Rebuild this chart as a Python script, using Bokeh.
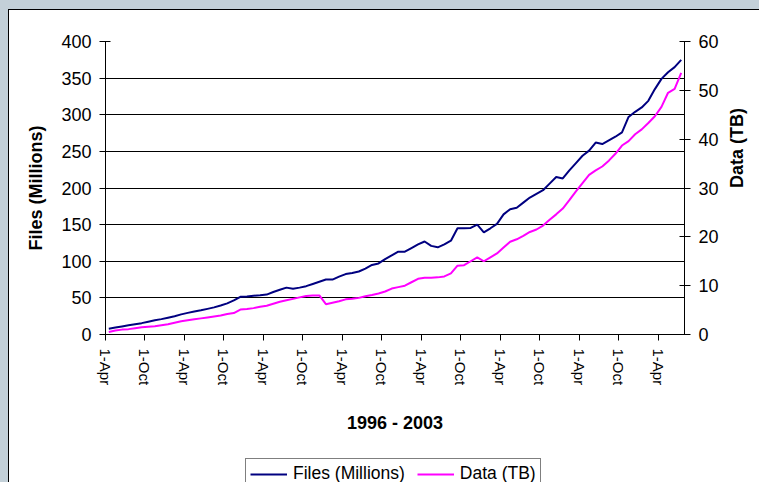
import math
import numpy as np
from bokeh.plotting import figure
from bokeh.layouts import column
from bokeh.models import Range1d, LinearAxis, FixedTicker, Legend, LegendItem
from bokeh.embed import file_html
from bokeh.resources import INLINE

# ---- data (monthly, Apr 1996 .. Jul 2003) ----
files_millions = [
    8, 9.5, 11, 12.5, 14, 15.5, 17.5, 19.5, 21, 23,
    25, 27.5, 29.5, 31.5, 33, 35, 37, 39.5, 42.5, 46.5,
    51.5, 52, 53, 53.5, 54.5, 58, 61, 64, 62.5, 64,
    66, 69, 72, 75, 75, 79, 82.5, 84, 86, 90,
    95, 97, 103, 108, 113, 113, 118, 123, 127, 121,
    119, 123, 128, 145, 145, 145.5, 150, 139.5, 145, 151,
    164, 171, 173, 180, 187, 192, 197, 206, 215, 213,
    224, 234, 244, 251, 262, 260, 265, 270, 276, 297,
    304, 310, 319, 335, 349, 358, 365, 375,
]
data_tb = [
    0.5, 0.8, 1.0, 1.1, 1.3, 1.5, 1.6, 1.7, 1.9, 2.1,
    2.4, 2.7, 2.9, 3.1, 3.3, 3.5, 3.7, 3.9, 4.2, 4.4,
    5.1, 5.2, 5.4, 5.7, 5.9, 6.3, 6.7, 7.0, 7.3, 7.6,
    7.9, 8.0, 8.0, 6.2, 6.5, 6.8, 7.2, 7.3, 7.5, 7.85,
    8.1, 8.4, 8.8, 9.4, 9.7, 10.0, 10.7, 11.4, 11.6, 11.6,
    11.7, 11.9, 12.5, 14.1, 14.2, 15.0, 15.8, 15.0, 15.8, 16.6,
    17.8, 19.0, 19.5, 20.2, 21.0, 21.5, 22.3, 23.5, 24.6, 25.8,
    27.5, 29.3, 31.0, 32.7, 33.6, 34.4, 35.6, 37.0, 38.7, 39.6,
    41.0, 42.0, 43.3, 44.7, 46.6, 49.5, 50.3, 53.6,
]
x_tick_labels = ["1-Apr", "1-Oct"] * 7 + ["1-Apr"]
left_ticks = [0, 50, 100, 150, 200, 250, 300, 350, 400]
right_ticks = [0, 10, 20, 30, 40, 50, 60]
series_names = ["Files (Millions)", "Data (TB)"]
x_title = "1996 - 2003"
y_title = "Files (Millions)"
y2_title = "Data (TB)"

FONT = "Liberation Sans"
GRAY = "#C3D0D8"
NAVY = "#000080"
MAGENTA = "#FF00FF"

n = len(files_millions)
months = np.arange(n) + 0.5
x_ticks = list(range(0, n, 6))

p = figure(width=759, height=450, output_backend="svg", toolbar_location=None,
           x_range=Range1d(0, n), y_range=Range1d(0, 400),
           min_border_left=105, min_border_right=72, min_border_top=41,
           min_border_bottom=116)
p.extra_y_ranges = {"tb": Range1d(0, 60)}

p.background_fill_color = "white"
p.border_fill_color = None
p.outline_line_color = None
p.styles = {
    "background-color": "white",
    "box-shadow": f"inset 8px 9px 0 0 {GRAY}, inset 9px 10px 0 0 #000000",
}

r1 = p.line(months, files_millions, line_color=NAVY, line_width=2)
r2 = p.line(months, data_tb, line_color=MAGENTA, line_width=2, y_range_name="tb")

p.xgrid.visible = False
p.ygrid.ticker = FixedTicker(ticks=left_ticks)
p.ygrid.grid_line_color = "black"
p.ygrid.grid_line_width = 1

def style_axis(ax, tick_in, font_size):
    ax.axis_line_color = "black"
    ax.axis_line_width = 1
    ax.major_tick_line_color = "black"
    ax.major_tick_in = tick_in
    ax.major_tick_out = 6
    ax.minor_tick_line_color = None
    ax.major_label_text_font = FONT
    ax.major_label_text_font_size = font_size
    ax.major_label_text_color = "black"
    ax.axis_label_text_font = FONT
    ax.axis_label_text_font_size = "18px"
    ax.axis_label_text_font_style = "bold"
    ax.axis_label_text_color = "black"

xa = p.xaxis[0]
style_axis(xa, 0, "15px")
xa.ticker = FixedTicker(ticks=x_ticks)
xa.major_label_overrides = {t: lab for t, lab in zip(x_ticks, x_tick_labels)}
xa.major_label_orientation = -math.pi / 2
xa.major_label_standoff = 8
xa.axis_label = x_title
xa.axis_label_standoff = 25

ya = p.yaxis[0]
style_axis(ya, 5, "18px")
ya.ticker = FixedTicker(ticks=left_ticks)
ya.major_label_standoff = 8
ya.axis_label = y_title
ya.axis_label_standoff = 12

ya2 = LinearAxis(y_range_name="tb", ticker=FixedTicker(ticks=right_ticks))
style_axis(ya2, 5, "18px")
ya2.major_label_standoff = 8
ya2.axis_label_orientation = math.pi / 2
ya2.axis_label = y2_title
ya2.axis_label_standoff = 15
p.add_layout(ya2, "right")

# ---- legend strip (bottom of the chart, cut by the window edge) ----
p2 = figure(width=759, height=32, output_backend="svg", toolbar_location=None,
            x_range=Range1d(0, 1), y_range=Range1d(0, 1),
            x_axis_type=None, y_axis_type=None, min_border=0)
p2.grid.visible = False
p2.outline_line_color = None
p2.background_fill_color = "white"
p2.border_fill_color = None
p2.styles = {
    "background-color": "white",
    "box-shadow": f"inset 8px 0 0 0 {GRAY}, inset 9px 0 0 0 #000000",
}
# legend-only renderers, kept outside the visible range
l1 = p2.line([-5, -4], [-5, -4], line_color=NAVY, line_width=2)
l2 = p2.line([-5, -4], [-5, -4], line_color=MAGENTA, line_width=2)

legend = Legend(items=[LegendItem(label=series_names[0], renderers=[l1]),
                       LegendItem(label=series_names[1], renderers=[l2])],
                orientation="horizontal", location=(140, -7),
                border_line_color="black", border_line_width=1,
                background_fill_color="white", background_fill_alpha=1,
                label_text_font=FONT, label_text_font_size="17.5px",
                label_text_color="black",
                glyph_width=37, glyph_height=18, label_height=18,
                label_standoff=6, spacing=12, padding=4, margin=0)
p2.add_layout(legend, "center")

layout = column(p, p2, spacing=0)
open("out.html", "w").write(file_html(layout, INLINE))
